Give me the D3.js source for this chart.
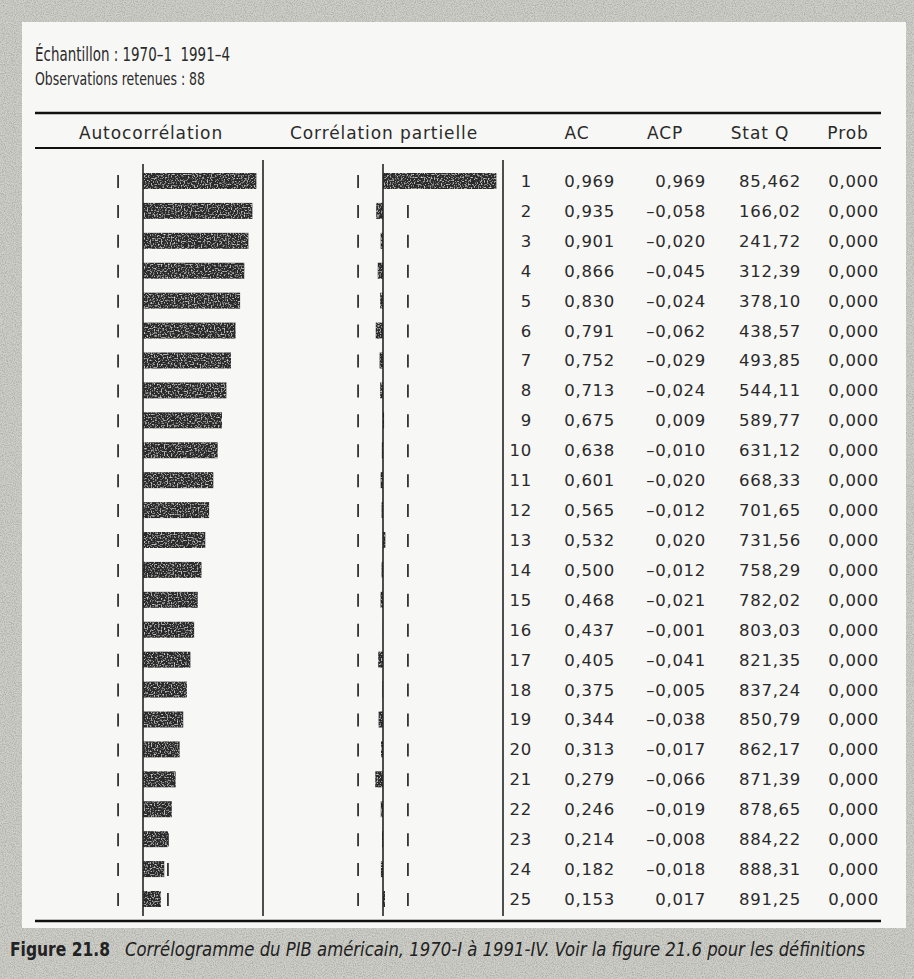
<!DOCTYPE html>
<html>
<head>
<meta charset="utf-8">
<script src="https://cdn.jsdelivr.net/npm/d3@7/dist/d3.min.js"></script>
<style>
body{margin:0;background:#d4d4ce;}
svg{display:block;}
</style>
</head>
<body>
<svg width="914" height="979"></svg>
<script>
// données du corrélogramme (PIB américain)
var lags = [1,2,3,4,5,6,7,8,9,10,11,12,13,14,15,16,17,18,19,20,21,22,23,24,25];
var ac = [0.969,0.935,0.901,0.866,0.830,0.791,0.752,0.713,0.675,0.638,0.601,0.565,0.532,0.500,0.468,0.437,0.405,0.375,0.344,0.313,0.279,0.246,0.214,0.182,0.153];
var acp = [0.969,-0.058,-0.020,-0.045,-0.024,-0.062,-0.029,-0.024,0.009,-0.010,-0.020,-0.012,0.020,-0.012,-0.021,-0.001,-0.041,-0.005,-0.038,-0.017,-0.066,-0.019,-0.008,-0.018,0.017];
var statQ = [85.462,166.02,241.72,312.39,378.10,438.57,493.85,544.11,589.77,631.12,668.33,701.65,731.56,758.29,782.02,803.03,821.35,837.24,850.79,862.17,871.39,878.65,884.22,888.31,891.25];
var prob = [0,0,0,0,0,0,0,0,0,0,0,0,0,0,0,0,0,0,0,0,0,0,0,0,0];
var bande = 0.213; // 2/sqrt(88)
var entetes = ['Autocorrélation','Corrélation partielle','AC','ACP','Stat Q','Prob'];

var svg = d3.select('svg');
var defs = svg.append('defs');
var f = defs.append('filter').attr('id','grain').attr('x',0).attr('y',0).attr('width','100%').attr('height','100%');
f.append('feTurbulence').attr('type','fractalNoise').attr('baseFrequency',0.9).attr('numOctaves',2).attr('seed',3).attr('result','n');
f.append('feColorMatrix').attr('in','n').attr('type','matrix')
  .attr('values','0 0 0 0 0.35  0 0 0 0 0.35  0 0 0 0 0.33  0 0 0 -1.6 1.0').attr('result','m');
f.append('feComposite').attr('in','m').attr('in2','SourceGraphic').attr('operator','in');

// grain sombre des barres
var g = defs.append('filter').attr('id','encre');
g.append('feTurbulence').attr('type','fractalNoise').attr('baseFrequency',0.7).attr('numOctaves',1).attr('seed',7).attr('result','n');
g.append('feColorMatrix').attr('in','n').attr('type','matrix')
  .attr('values','0 0 0 0 0.8  0 0 0 0 0.8  0 0 0 0 0.8  0 0 0 -3 1.45').attr('result','m');
g.append('feComposite').attr('in','m').attr('in2','SourceGraphic').attr('operator','in').attr('result','t');
var gm = g.append('feMerge');
gm.append('feMergeNode').attr('in','SourceGraphic');
gm.append('feMergeNode').attr('in','t');

// fond de page scanné
svg.append('rect').attr('width',914).attr('height',979).attr('fill','#cfcfc9');
svg.append('rect').attr('width',914).attr('height',979).attr('fill','#cfcfc9').attr('filter','url(#grain)');
svg.append('rect').attr('x',22).attr('y',22).attr('width',884).attr('height',906).attr('fill','#f7f7f5');

var txt = '#2a2a2a';
var cond = "'DejaVu Sans Condensed','Liberation Sans Narrow',sans-serif";
var rond = "'DejaVu Sans',sans-serif";

svg.append('text').attr('x',35).attr('y',61).attr('font-family',cond).attr('font-size',20)
  .attr('fill',txt).text('Échantillon : 1970–1\u00a0\u00a01991–4')
  .attr('textLength',195).attr('lengthAdjust','spacingAndGlyphs');
svg.append('text').attr('x',35).attr('y',85).attr('font-family',cond).attr('font-size',18)
  .attr('fill',txt).text('Observations retenues : 88')
  .attr('textLength',170).attr('lengthAdjust','spacingAndGlyphs');

// filets du tableau
svg.append('line').attr('x1',35).attr('x2',881).attr('y1',113).attr('y2',113).attr('stroke','#111').attr('stroke-width',2.5);
svg.append('line').attr('x1',35).attr('x2',881).attr('y1',148).attr('y2',148).attr('stroke','#111').attr('stroke-width',2);
svg.append('line').attr('x1',35).attr('x2',881).attr('y1',921).attr('y2',921).attr('stroke','#111').attr('stroke-width',2.5);

var colX = [151,384,577,665,760,848];
svg.selectAll('text.ent').data(entetes).enter().append('text').attr('class','ent')
  .attr('x',function(d,i){return colX[i];}).attr('y',139)
  .attr('text-anchor','middle').attr('font-family',rond).attr('font-size',17)
  .attr('letter-spacing',0.9).attr('fill',txt).text(function(d){return d;});

var y = d3.scalePoint().domain(lags).range([181,899]);
var xAC = d3.scaleLinear().domain([0,1]).range([143,260]);
var xAP = d3.scaleLinear().domain([0,1]).range([383,500]);
var hBar = 16;

function panneau(x, vals, cls){
  // bornes de confiance (traits courts)
  [-bande, bande].forEach(function(b){
    svg.selectAll('line.b'+cls+(b>0?'p':'n')).data(lags).enter().append('line')
      .attr('x1',x(b)).attr('x2',x(b))
      .attr('y1',function(d){return y(d)-6;}).attr('y2',function(d){return y(d)+7;})
      .attr('stroke','#333').attr('stroke-width',1.8);
  });
  svg.selectAll('rect.'+cls).data(vals).enter().append('rect').attr('class',cls)
    .attr('x',function(d){return Math.min(x(0),x(d));})
    .attr('y',function(d,i){return y(lags[i])-hBar/2;})
    .attr('width',function(d){return Math.abs(x(d)-x(0));})
    .attr('height',hBar).attr('fill','#2c2c2c').attr('filter','url(#encre)');
  svg.append('line').attr('x1',x(0)).attr('x2',x(0)).attr('y1',164).attr('y2',916).attr('stroke','#222').attr('stroke-width',1.6);
  svg.append('line').attr('x1',x(1)+3).attr('x2',x(1)+3).attr('y1',160).attr('y2',916).attr('stroke','#222').attr('stroke-width',1.6);
}
panneau(xAC, ac, 'ac');
panneau(xAP, acp, 'ap');

// colonnes numériques
var fr = d3.formatLocale({decimal:',', thousands:' ', grouping:[3], currency:['',''], minus:'–'});
var colonnes = [
  {v:lags, x:532, f:function(d){return d;}},
  {v:ac, x:615, f:fr.format('.3f')},
  {v:acp, x:706, f:fr.format('.3f')},
  {v:statQ, x:801, f:fr.format('.5r')},
  {v:prob, x:879, f:fr.format('.3f')}
];
colonnes.forEach(function(c,j){
  svg.selectAll('text.c'+j).data(c.v).enter().append('text').attr('class','c'+j)
    .attr('x',c.x).attr('y',function(d,i){return y(lags[i]);}).attr('dy','0.36em')
    .attr('text-anchor','end').attr('font-family',rond).attr('font-size',16.5)
    .attr('letter-spacing',0.7).attr('fill',txt).text(c.f);
});

// légende de la figure
svg.append('text').attr('x',10).attr('y',956).attr('font-family',rond).attr('font-size',19)
  .attr('font-weight','bold').attr('fill','#222').text('Figure 21.8')
  .attr('textLength',100).attr('lengthAdjust','spacingAndGlyphs');
svg.append('text').attr('x',125).attr('y',956).attr('font-family',cond).attr('font-size',19)
  .attr('font-style','italic').attr('fill','#222')
  .text('Corrélogramme du PIB américain, 1970-I à 1991-IV. Voir la figure 21.6 pour les définitions')
  .attr('textLength',740).attr('lengthAdjust','spacingAndGlyphs');
</script>
</body>
</html>
